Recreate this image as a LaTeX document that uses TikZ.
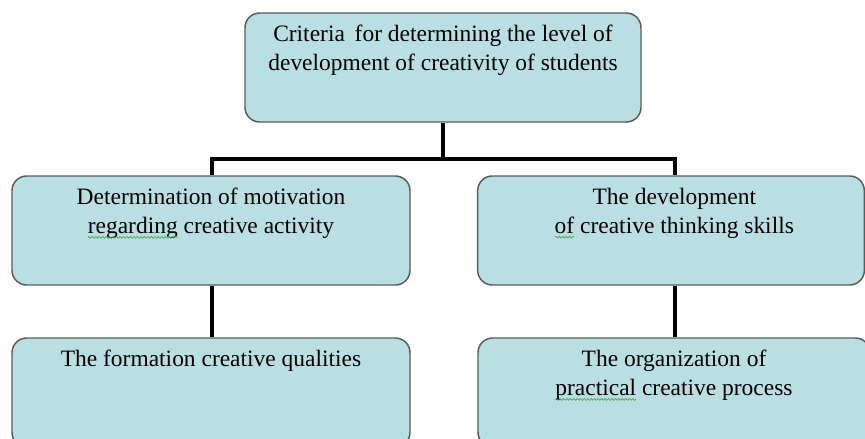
\documentclass[tikz,border=0pt]{standalone}
\usepackage{fontspec}
\setmainfont{Liberation Serif}
\usetikzlibrary{calc,decorations.pathmorphing}

\definecolor{boxfill}{RGB}{185,223,227}
\definecolor{boxedge}{RGB}{88,92,94}
\definecolor{spellgreen}{RGB}{70,170,70}

% green wavy underline, as a spelling mark
\newsavebox\spellbox
\newcommand\spellmark[1]{%
  \sbox\spellbox{#1}\usebox\spellbox
  \tikz[overlay,baseline=0pt]\draw[spellgreen,line width=0.5pt,decorate,
    decoration={snake,amplitude=0.7pt,segment length=2.6pt}]
    (-\wd\spellbox,-3pt) -- (0pt,-3pt);}

\tikzset{
  critbox/.style={draw=boxedge, line width=1.1pt, fill=boxfill,
    rounded corners=11pt, minimum height=81.75pt, inner sep=0pt},
  crittext/.style={anchor=north, align=center, inner sep=0pt,
    font=\fontsize{17.6pt}{21.5pt}\selectfont},
  link/.style={line width=3pt, draw=black, line join=miter}
}

\begin{document}
\begin{tikzpicture}[x=0.75pt,y=-0.75pt]
  \clip (0,0) rectangle (865,439);

  % boxes
  \node[critbox, minimum width=297pt]   (top) at (443,67.5) {};
  \node[critbox, minimum width=298.5pt] (ml)  at (211,230.5) {};
  \node[critbox, minimum width=290pt]   (mr)  at (671,230.5) {};
  \node[critbox, minimum width=298.5pt] (bl)  at (211,392.5) {};
  \node[critbox, minimum width=294pt]   (br)  at (674,392.5) {};

  % captions
  \node[crittext] (ttop) at ([yshift=-9.5pt]top.north)
    {Criteria\, for determining the level of\\development of creativity of students};
  \node[crittext] (tml) at ([yshift=-9.5pt]ml.north)
    {Determination of motivation\\\spellmark{regarding} creative activity};
  \node[crittext] (tmr) at ([xshift=2.5pt,yshift=-9.5pt]mr.north)
    {The development\\\spellmark{of} creative thinking skills};
  \node[crittext] (tbl) at ([yshift=-9.5pt]bl.north)
    {The formation creative qualities};
  \node[crittext] (tbr) at ([xshift=0pt,yshift=-9.5pt]br.north)
    {The organization of\\\spellmark{practical} creative process};

  % connectors
  \coordinate (bus) at (443,159);
  \coordinate (busl) at (212,159);
  \coordinate (busr) at (675,159);
  \draw[link] (top.south) -- (bus);
  \draw[link] (ml.north -| busl) -- (busl) -- (busr) -- (mr.north -| busr);
  \draw[link] (ml.south -| busl) -- (bl.north -| busl);
  \draw[link] (mr.south -| busr) -- (br.north -| busr);
\end{tikzpicture}
\end{document}
